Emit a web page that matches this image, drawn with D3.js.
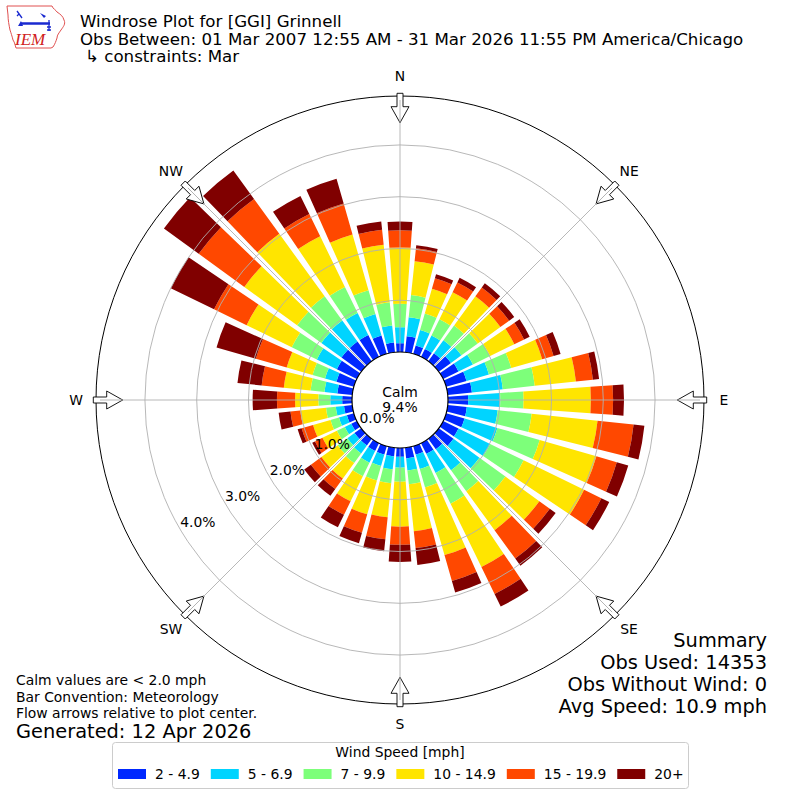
<!DOCTYPE html>
<html><head><meta charset="utf-8">
<script src="https://cdn.jsdelivr.net/npm/d3@7"></script>
<style>body{margin:0;background:#fff} text{font-family:"DejaVu Sans",sans-serif;fill:#000}</style>
</head><body><svg id="c" width="800" height="800" xmlns="http://www.w3.org/2000/svg"></svg>
<script>
// ---- data ----
const directions = [0,10,20,30,40,50,60,70,80,90,100,110,120,130,140,150,160,170,180,190,200,210,220,230,240,250,260,270,280,290,300,310,320,330,340,350];
const speedBins = ["2 - 4.9","5 - 6.9","7 - 9.9","10 - 14.9","15 - 19.9","20+"];
const binColors = ["#0028ff","#00d4ff","#7dff7a","#ffe500","#ff4800","#800000"];
const pct2to5   = [0.17,0.31,0.17,0.17,0.19,0.29,0.33,0.41,0.47,0.39,0.37,0.37,0.33,0.35,0.25,0.23,0.17,0.21,0.17,0.17,0.17,0.17,0.16,0.16,0.12,0.14,0.16,0.19,0.29,0.35,0.43,0.47,0.47,0.47,0.37,0.19];
const pct5to7   = [0.31,0.37,0.31,0.29,0.31,0.25,0.31,0.45,0.60,0.62,0.60,0.66,0.68,0.62,0.50,0.41,0.29,0.23,0.21,0.25,0.23,0.25,0.19,0.17,0.14,0.16,0.16,0.23,0.25,0.23,0.43,0.48,0.50,0.47,0.43,0.33];
const pct7to10  = [0.45,0.43,0.33,0.35,0.35,0.39,0.37,0.45,0.62,0.45,0.66,0.85,0.72,0.62,0.50,0.66,0.37,0.27,0.27,0.27,0.29,0.29,0.23,0.23,0.17,0.17,0.19,0.23,0.27,0.25,0.54,0.58,0.58,0.56,0.48,0.45];
const pct10to15 = [1.09,0.66,0.50,0.58,0.70,0.54,0.52,0.62,0.80,1.30,1.28,1.14,1.30,0.81,0.93,1.36,1.36,0.91,0.87,0.66,0.68,0.54,0.37,0.39,0.31,0.35,0.50,0.45,0.52,0.52,0.97,1.26,1.49,1.09,1.12,1.12];
const pct15to20 = [0.33,0.25,0.21,0.21,0.21,0.21,0.21,0.23,0.33,0.43,0.70,0.41,0.37,0.25,0.68,0.58,0.52,0.33,0.35,0.43,0.37,0.29,0.25,0.25,0.16,0.23,0.19,0.35,0.43,0.62,0.70,1.09,0.83,0.48,0.62,0.29];
const pct20plus = [0.17,0.06,0.08,0.10,0.10,0.12,0.12,0.14,0.12,0.21,0.21,0.23,0.17,0.14,0.17,0.27,0.23,0.33,0.33,0.23,0.21,0.27,0.16,0.16,0.06,0.08,0.23,0.47,0.47,0.79,0.93,0.83,0.68,0.39,0.50,0.16];
const radialTicks = [0,1,2,3,4];
const compassLabels = ["N","NE","E","SE","S","SW","W","NW"];
const compassAngles = [0,45,90,135,180,225,270,315];
const calmPct = 9.4;
const titleLines = ["Windrose Plot for [GGI] Grinnell","Obs Between: 01 Mar 2007 12:55 AM - 31 Mar 2026 11:55 PM America/Chicago","\u21B3 constraints: Mar"];
const noteLines = ["Calm values are < 2.0 mph","Bar Convention: Meteorology","Flow arrows relative to plot center."];
const generatedText = "Generated: 12 Apr 2026";
const summaryLines = ["Summary","Obs Used: 14353","Obs Without Wind: 0","Avg Speed: 10.9 mph"];

// ---- drawing ----
const series = [pct2to5,pct5to7,pct7to10,pct10to15,pct15to20,pct20plus];
const svg = d3.select("#c");
svg.append("rect").attr("width",800).attr("height",800).attr("fill","#fff");
const cx = 400, cy = 400, r0 = 48, R = 304;
const totals = directions.map((d,i)=>d3.sum(series,s=>s[i]));
const rmax = d3.max(totals)*1.05;
const rs = d3.scaleLinear().domain([0,rmax]).range([r0,R]);
const rad = Math.PI/180;
const g = svg.append("g").attr("transform",`translate(${cx},${cy})`);

// bars
const arc = d3.arc();
const bw = 8;
directions.forEach((d,i)=>{
  let cum = 0;
  series.forEach((s,k)=>{
    const v = s[i];
    if (v<=0) return;
    g.append("path").attr("d",arc({innerRadius:rs(cum),outerRadius:rs(cum+v),startAngle:(d-bw/2)*rad,endAngle:(d+bw/2)*rad}))
     .attr("fill",binColors[k]);
    cum += v;
  });
});

// grid
radialTicks.filter(t=>t>0).forEach(t=>{
  g.append("circle").attr("r",rs(t)).attr("fill","none").attr("stroke","#b0b0b0").attr("stroke-width",0.9);
});
compassAngles.forEach(a=>{
  g.append("line").attr("x1",0).attr("y1",0).attr("x2",R*Math.sin(a*rad)).attr("y2",-R*Math.cos(a*rad))
   .attr("stroke","#b0b0b0").attr("stroke-width",0.9);
});
g.append("circle").attr("r",R).attr("fill","none").attr("stroke","#000").attr("stroke-width",1);

// calm circle
g.append("circle").attr("r",r0).attr("fill","#fff").attr("stroke","#000").attr("stroke-width",1.2);
g.append("text").attr("x",0).attr("y",-3).attr("text-anchor","middle").attr("font-size",13.9).text("Calm");
g.append("text").attr("x",0).attr("y",12).attr("text-anchor","middle").attr("font-size",13.9).text(calmPct.toFixed(1)+"%");

// radial labels
radialTicks.forEach(t=>{
  const rr = rs(t), a = 240*rad;
  g.append("text").attr("x",rr*Math.sin(a)+1).attr("y",-rr*Math.cos(a)-1)
   .attr("font-size",13.9).attr("text-anchor","start").text(t.toFixed(1)+"%");
});

// flow arrows
const arrowPts = [[-3,-(R+2.7)],[3,-(R+2.7)],[3,-(R-10.7)],[9,-(R-10.7)],[0,-(R-26.7)],[-9,-(R-10.7)],[-3,-(R-10.7)]];
compassAngles.forEach(a=>{
  g.append("polygon").attr("points",arrowPts.map(p=>p.join(",")).join(" "))
   .attr("transform",`rotate(${a})`).attr("fill","#fff").attr("stroke","#000").attr("stroke-width",0.9);
  g.append("line").attr("x1",0).attr("y1",-(R-26.7)).attr("x2",0).attr("y2",-(R-4)).attr("transform",`rotate(${a})`)
   .attr("stroke","#b0b0b0").attr("stroke-width",0.9);
});

// compass labels
compassLabels.forEach((l,i)=>{
  const a = compassAngles[i]*rad, rl = 324;
  g.append("text").attr("x",rl*Math.sin(a)).attr("y",-rl*Math.cos(a)).attr("dy","0.36em")
   .attr("text-anchor","middle").attr("font-size",13.9).text(l);
});

// title
const ty = [26.5,45,62];
titleLines.forEach((t,i)=>{
  svg.append("text").attr("x",i==2?85:80).attr("y",ty[i]).attr("font-size",16.67).text(t);
});

// notes
const ny = [685,701.5,717.5];
noteLines.forEach((t,i)=>svg.append("text").attr("x",16).attr("y",ny[i]).attr("font-size",13.9).text(t));
svg.append("text").attr("x",16).attr("y",737.5).attr("font-size",19.4).text(generatedText);

// summary
const sy = [647,669,691,713];
summaryLines.forEach((t,i)=>svg.append("text").attr("x",767).attr("y",sy[i]).attr("text-anchor","end").attr("font-size",19.4).text(t));

// legend
const lg = svg.append("g");
lg.append("rect").attr("x",112.5).attr("y",742.5).attr("width",576).attr("height",46).attr("rx",3)
  .attr("fill","#fff").attr("stroke","#cccccc").attr("stroke-width",1);
lg.append("text").attr("x",400).attr("y",757).attr("text-anchor","middle").attr("font-size",13.9).text("Wind Speed [mph]");
let lx = 118;
speedBins.forEach((b,k)=>{
  lg.append("rect").attr("x",lx).attr("y",769).attr("width",28).attr("height",10).attr("fill",binColors[k]);
  const t = lg.append("text").attr("x",lx+37).attr("y",779).attr("font-size",13.9).text(b);
  lx = lx + 37 + t.node().getComputedTextLength() + 11;
});

// logo
const logo = svg.append("g");
logo.append("path").attr("d","M7,6 L52,6 C53,9 56,10 57,12 C60,14 63,16 64,20 C66,24 63,27 61,30 C59,33 57,35 57,38 C56,41 55,44 53,47 L51,48 L16,48 C15,45 15,43 13,40 C12,36 11,33 10,30 C9,25 8,20 8,15 Z")
  .attr("fill","#fff").attr("stroke","#e05050").attr("stroke-width",1);
logo.append("line").attr("x1",21).attr("y1",23.5).attr("x2",50).attr("y2",23.5).attr("stroke","#1a2ad0").attr("stroke-width",2.5);
logo.append("path").attr("d","M17,11 L22,18 M19,14 L17,16").attr("stroke","#1a2ad0").attr("stroke-width",1.3).attr("fill","none");
logo.append("path").attr("d","M18,26 L21,21 L23,26 Z").attr("fill","#1a2ad0");
logo.append("path").attr("d","M40,13 L46,16 L44,18 Z").attr("fill","#1a2ad0");
logo.append("path").attr("d","M49,20 L49,31 M47,27 L51,27 M47,30 L51,30").attr("stroke","#1a2ad0").attr("stroke-width",1.3).attr("fill","none");
logo.append("text").attr("x",15).attr("y",45).attr("font-size",17)
  .style("font-family","'Liberation Serif',serif").style("font-style","italic").style("fill","#d02020").text("IEM");
</script></body></html>
